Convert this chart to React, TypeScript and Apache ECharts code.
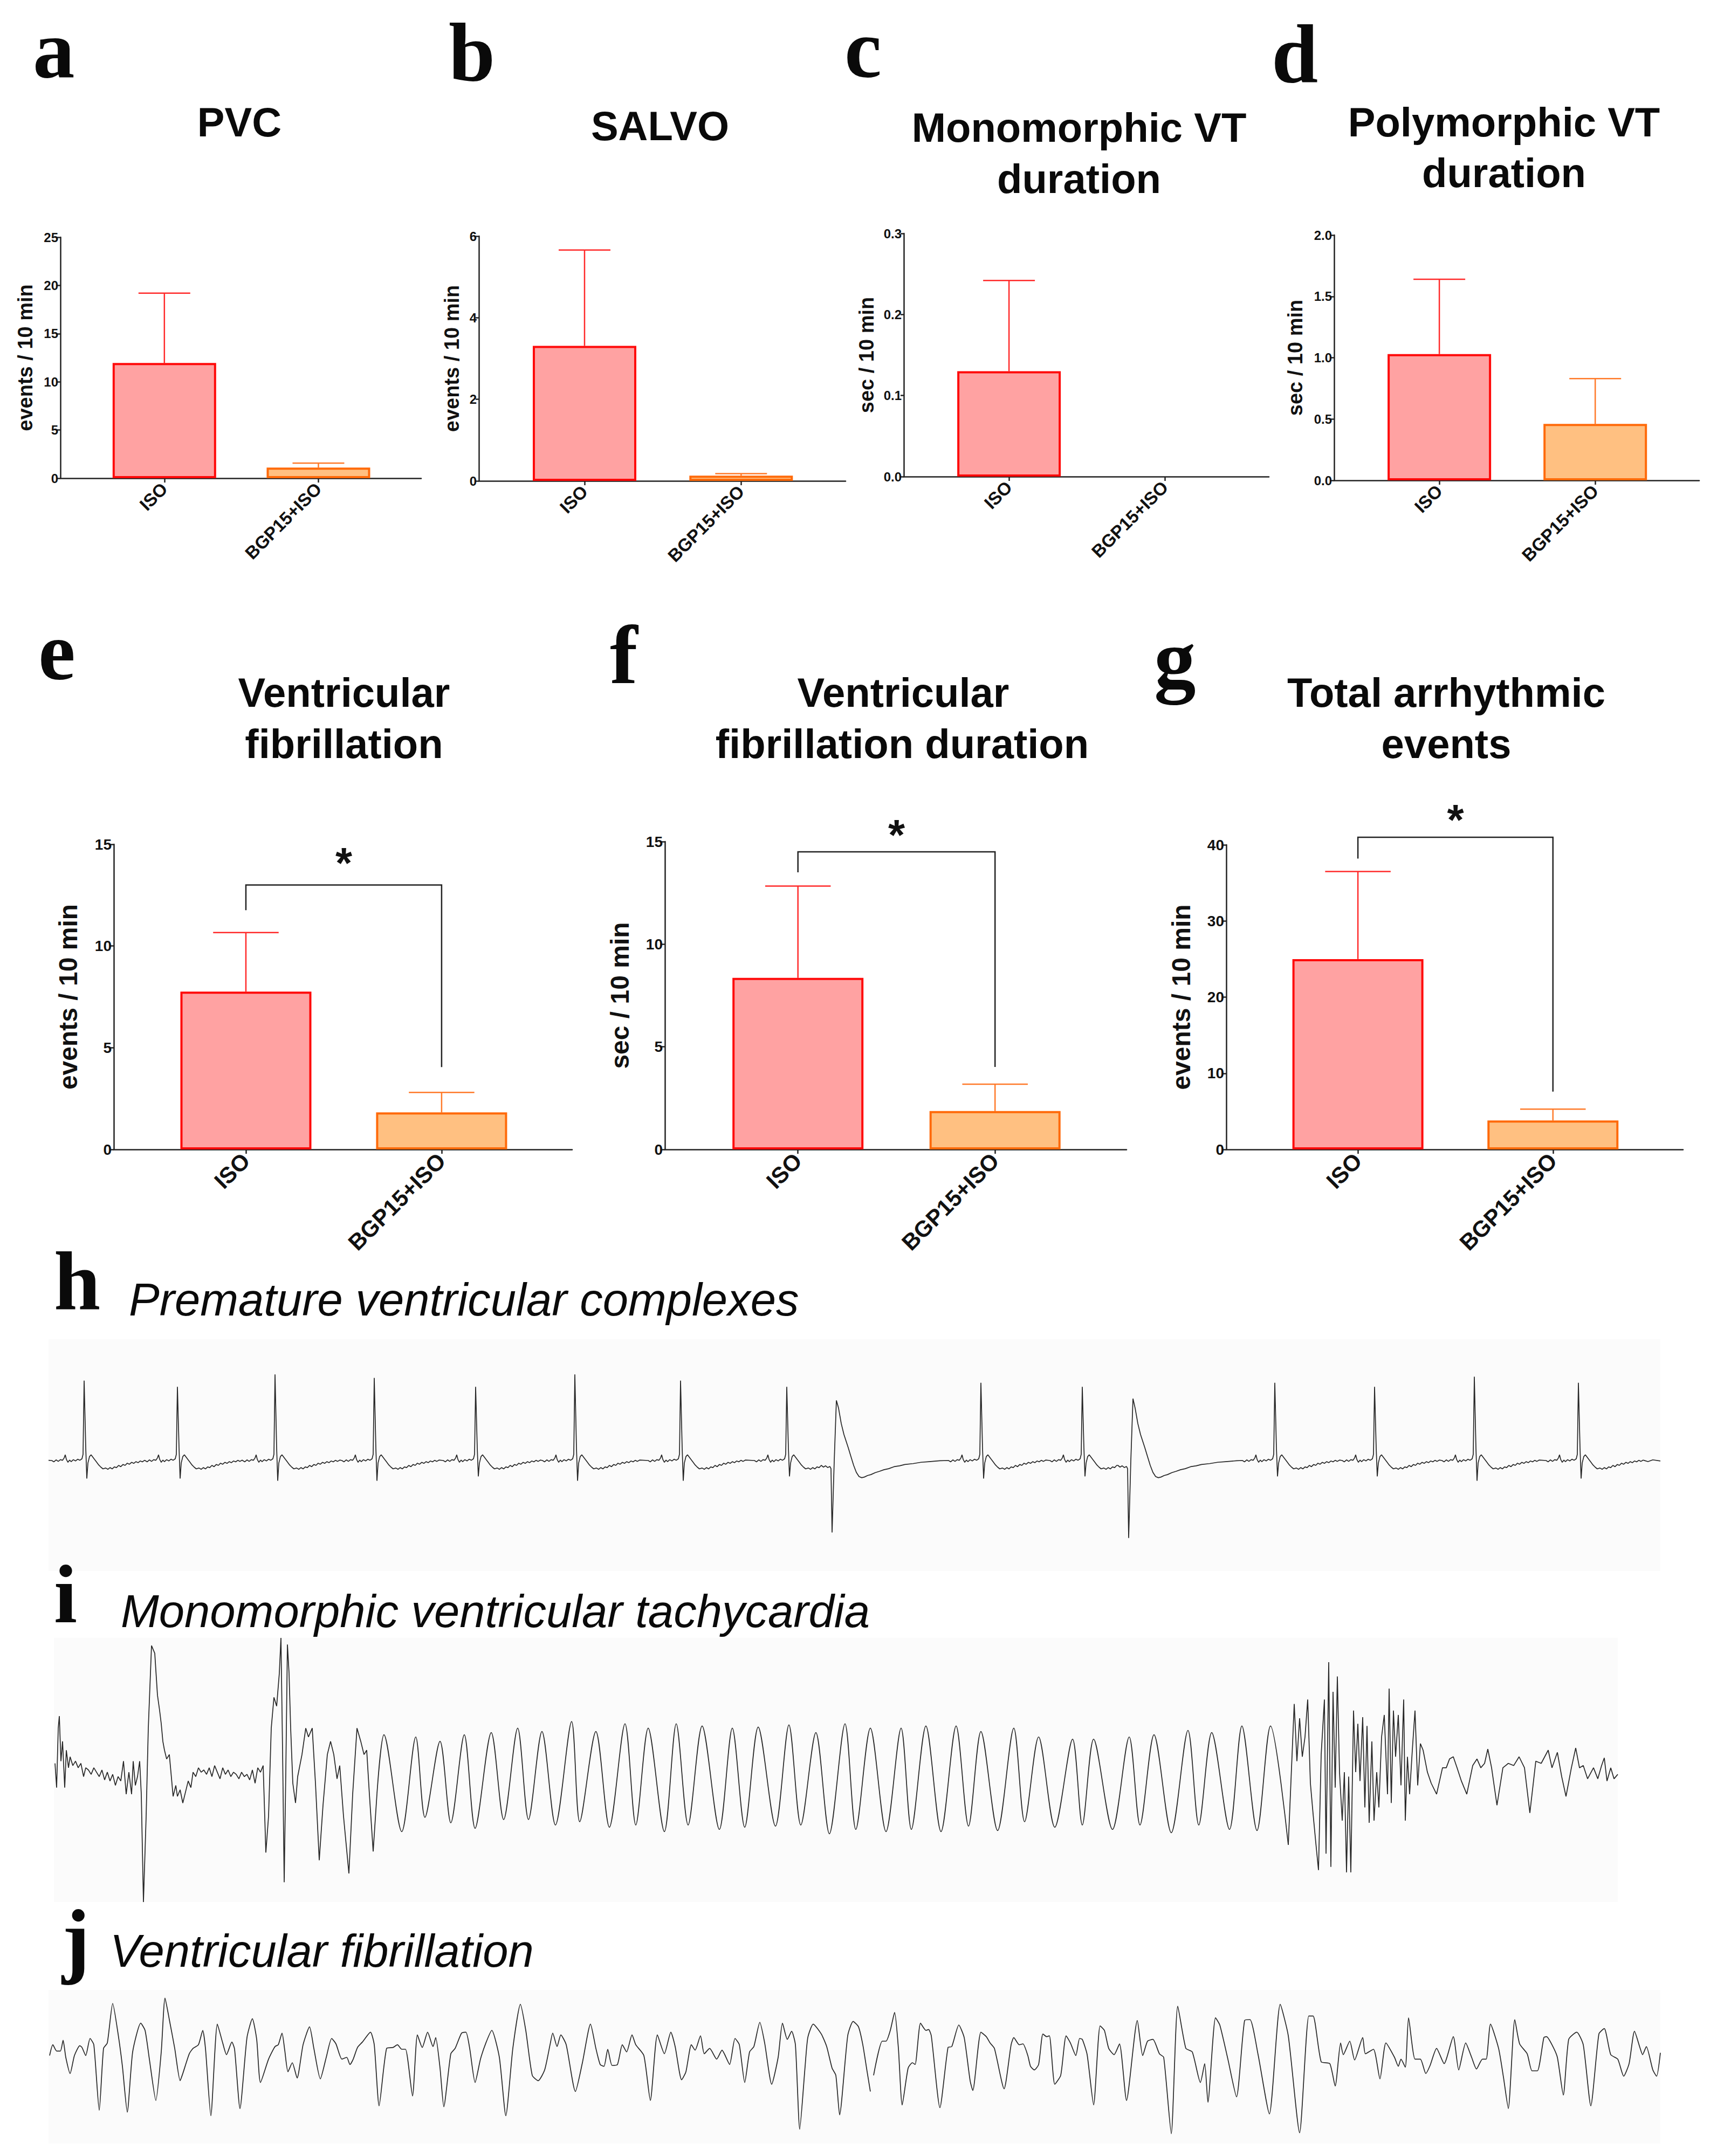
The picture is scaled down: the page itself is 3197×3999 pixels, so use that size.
import React, { useEffect, useRef } from 'react';
import * as echarts from 'echarts';

// ---------------- DATA ----------------
const categories = ['ISO', 'BGP15+ISO'];

// bar means and SEM (upper error) per panel, [ISO, BGP15+ISO]
const pvcMean = [11.95, 1.1];
const pvcSem = [7.25, 0.47];
const salvoMean = [3.31, 0.13];
const salvoSem = [2.35, 0.05];
const monoVtMean = [0.13, 0];
const monoVtSem = [0.112, 0];
const polyVtMean = [1.03, 0.46];
const polyVtSem = [0.61, 0.37];
const vfMean = [7.76, 1.82];
const vfSem = [2.9, 0.98];
const vfDurMean = [8.36, 1.87];
const vfDurSem = [4.47, 1.31];
const totalMean = [25.0, 3.8];
const totalSem = [11.5, 1.5];

// significance brackets for e, f, g: top level, left-leg end, right-leg end, star level
const bracketTop = [13.0, 14.5, 41.0];
const bracketLeftEnd = [11.76, 13.5, 38.2];
const bracketRightEnd = [4.05, 4.02, 7.6];
const starLevel = [14.55, 15.79, 44.6];

// ---- ECG h: premature ventricular complexes (time ms, amplitude a.u.) ----
const beatT = [66, 239, 420, 604, 792, 976, 1172, 1369, 1729, 1917, 2274, 2459, 2644, 2837];
const beatR = [365, 337, 393, 377, 337, 393, 365, 337, 355, 337, 355, 337, 383, 355];
const beatS = [-80, -80, -90, -90, -70, -90, -90, -70, -80, -70, -70, -70, -90, -80];
const beatShapeT = [-60, -56, -52, -48, -44, -40, -37, -35, -33, -30, -27, -24, -20, -16, -12, -8, -4, -2, 0, 3, 5, 7, 10, 13, 16, 19, 23, 27, 31, 35, 40, 44, 48, 52, 56, 60, 64, 68, 72, 76, 80, 84, 88, 92, 96, 100, 104, 108, 112, 116, 120];
const beatShapeV = [2, -4, 5, -2, 6, 3, 14, 28, 8, -6, 4, -3, 6, 0, 8, 3, 10, 30, 365, 60, -80, -10, 20, 28, 18, 8, -5, -18, -28, -36, -32, -38, -30, -36, -27, -30, -20, -26, -16, -20, -10, -15, -6, -11, -3, -8, 0, -4, 3, -2, 4];
const pvcT = [1453, 2003];
const pvcTrough = [-325, -350];
const pvcPeak = [275, 283];
const pvcShapeT = [-20, -16, -12, -8, -4, -2, 0, 4, 8, 12, 17, 22, 26, 30, 35, 40, 45, 50, 55, 60, 66, 72, 80, 88, 96, 105, 115, 125, 135, 150, 165, 180, 200];
const pvcShapeV = [-20, -28, -22, -30, -25, -35, -325, 0, 275, 240, 170, 120, 90, 60, 20, -20, -52, -71, -76, -73, -66, -62, -53, -47, -40, -35, -26, -22, -16, -12, -6, -3, 1];
const hLead = [[0, 3]];
const hTail = [[2966, -3], [2975, 5], [2989, 0]];

// ---- ECG i: monomorphic ventricular tachycardia ----
const iPre = [[2, 40], [5, -70], [8, 200], [10, 255], [13, 50], [16, 140], [20, -70], [23, 100], [27, 20], [30, 70], [35, 30], [40, 50], [45, 20], [50, 40], [55, -20], [59, 20], [64, 10], [69, -10], [74, 20], [79, 0], [84, -20], [89, 10], [94, -35], [99, 0], [104, -40], [109, -10], [114, -60], [119, -20], [124, -40], [129, 50], [134, -100], [139, 0], [144, -100], [147, 50], [151, -60], [155, -20], [159, 50], [162, -100], [166, -590], [171, -200], [175, 200], [181, 575], [187, 540], [192, 350], [196, 280], [199, 220], [202, 140], [205, 100], [209, 60], [214, 80], [217, 0], [221, -110], [226, -60], [229, -110], [234, -80], [239, -140], [244, -90], [249, -40], [254, -70], [258, 0], [263, -20], [268, 20], [273, 0], [278, 10], [283, -10], [288, 20], [293, -20], [298, 30], [303, 0], [308, -30], [313, 20], [318, -10], [323, 10], [328, -20], [333, 0], [338, -10], [343, -30], [348, 0], [353, -20], [358, -10], [363, -35], [368, 10], [373, -50], [378, 20], [383, 0], [388, 30]];
const iBurst = [[388, 30], [393, -365], [398, -200], [403, 200], [408, 340], [413, 300], [418, 450], [421, 610], [424, 100], [427, -500], [430, 0], [433, 580], [436, 450], [439, 200], [443, -50], [448, -140], [452, -20], [456, 30], [460, 80], [467, 200], [472, 160], [479, 200], [485, -50], [492, -400], [499, -150], [507, 80], [513, 140], [519, 80], [525, -30], [530, 30], [537, -200], [547, -460], [554, -100], [562, 200], [569, 140], [575, 80], [580, 100], [585, -100], [592, -360], [599, -100]];
const iVT = [[599, -100], [612, 170], [645, -270], [671, 160], [688, -205], [716, 140], [736, -230], [761, 170], [781, -255], [811, 180], [834, -215], [860, 200], [880, -215], [905, 185], [930, -240], [960, 230], [975, -225], [1005, 185], [1030, -250], [1059, 220], [1079, -240], [1102, 200], [1132, -270], [1154, 220], [1176, -240], [1202, 210], [1234, -260], [1258, 200], [1281, -250], [1306, 205], [1338, -245], [1363, 215], [1385, -240], [1413, 180], [1438, -280], [1467, 220], [1487, -260], [1514, 200], [1543, -270], [1571, 200], [1590, -260], [1617, 210], [1645, -270], [1673, 210], [1696, -245], [1719, 185], [1750, -265], [1780, 200], [1800, -225], [1826, 160], [1856, -250], [1889, 150], [1907, -240], [1928, 150], [1963, -260], [1994, 160], [2014, -240], [2040, 170], [2072, -275], [2103, 190], [2123, -240], [2147, 180], [2180, -260], [2203, 210], [2231, -265], [2256, 210], [2289, -330]];
const iChaos = [[2289, -330], [2300, 310], [2305, 50], [2310, 245], [2315, 70], [2320, 160], [2325, 330], [2330, -50], [2335, -190], [2340, -320], [2345, -445], [2350, 80], [2356, 330], [2359, -370], [2364, 500], [2368, -430], [2372, 365], [2376, -70], [2380, 435], [2384, 0], [2389, -220], [2393, 0], [2397, -455], [2401, -20], [2405, -455], [2410, 280], [2414, 0], [2418, 220], [2422, -40], [2427, 250], [2431, -160], [2435, 210], [2439, -230], [2444, 140], [2448, -220], [2453, 0], [2457, -160], [2462, 160], [2467, 260], [2473, -100], [2476, 380], [2480, -140], [2484, 280], [2488, 70], [2493, 260], [2498, -60], [2503, 330], [2506, -220], [2510, 70], [2514, -100], [2519, 100], [2524, 280], [2529, -60], [2534, 130], [2539, 100], [2547, 0], [2554, -50], [2564, -100], [2575, 20], [2582, 20], [2588, 60], [2595, 70], [2602, 20], [2610, -40], [2620, -100], [2631, 30], [2639, 60], [2646, 20], [2653, 40], [2659, 105], [2666, 20], [2676, -150], [2687, 20], [2697, 40], [2707, 30], [2717, 70], [2727, 20], [2737, -185], [2748, 50], [2758, 40], [2771, 100], [2778, 20], [2788, 90], [2796, -20], [2804, -110], [2814, 20], [2822, 110], [2829, 20], [2836, 30], [2844, -30], [2855, 20], [2863, -30], [2870, 30], [2875, 65], [2880, -40], [2887, 20], [2893, -30], [2900, -10]];

// ---- ECG j: ventricular fibrillation ----
const jA = [[2, -20], [8, 40], [15, 5], [22, 5], [27, 65], [32, -30], [40, -120], [48, -20], [58, 35], [62, 25], [69, -20], [77, 75], [84, 40], [94, -325], [102, 20], [109, 50], [119, 270], [129, 100], [137, -80], [146, -335], [156, 0], [171, 160], [179, 120], [187, -40], [199, -270], [209, 0], [216, 300], [224, 180], [234, 20], [244, -160], [249, -120], [261, -10], [268, 20], [278, 40], [286, 120], [291, 20], [301, -355], [313, 155], [323, 50], [330, -15], [340, 55], [345, 15], [355, -315], [368, 80], [378, 185], [386, 70], [393, -170], [408, -40], [420, 30], [426, 40], [433, 105], [438, 10], [444, -110], [452, -60], [461, -145], [472, 40], [484, 140], [492, 20], [504, -150], [515, -30], [525, 75], [533, 45], [544, -40], [553, -30], [559, -70], [565, -40], [573, 25], [582, 55], [597, 110], [604, 40], [613, -300], [627, 20], [639, 25], [647, 40], [655, 15], [662, 15], [675, -245], [684, 95], [693, 25], [703, 110], [713, 30], [718, 80], [726, -90], [733, -305], [746, -10], [754, 20], [766, 105], [774, 110], [781, 20], [791, -170], [801, -40], [811, 50], [822, 120], [836, -30], [848, -355], [861, 20], [875, 265], [885, 120], [897, -130], [908, -160], [920, -100], [930, 40], [935, 105], [943, 30], [950, 95], [960, 40], [977, -220], [990, -60], [1005, 155], [1015, 20], [1023, -70], [1030, -80], [1037, 15], [1045, -75], [1055, -70], [1064, 40], [1072, 0], [1082, 95], [1089, 40], [1104, -20], [1116, -270], [1129, 95], [1142, -10], [1154, 110], [1162, 30], [1174, -155], [1182, -110], [1192, 40], [1199, 10], [1209, 90], [1216, -10], [1226, 20], [1239, -40], [1249, 10], [1254, -15], [1263, -70], [1273, 75], [1281, 40], [1291, -170], [1300, 0], [1308, 30], [1319, 165], [1328, 50], [1341, -180], [1353, -30], [1361, 160], [1370, 70], [1378, 115], [1385, 40], [1393, -430], [1403, -80], [1408, 80], [1418, 155], [1433, 100], [1443, 30], [1453, -90], [1460, -130], [1467, -350], [1482, 90], [1492, 170], [1502, 140], [1510, 40], [1518, -110], [1524, -220]];
const jB = [[1530, -130], [1546, 60], [1553, 60], [1561, 120], [1569, 220], [1576, 20], [1583, -295], [1594, -90], [1602, -60], [1607, -70], [1617, 160], [1627, 120], [1632, 125], [1637, 90], [1653, -310], [1668, 25], [1675, 30], [1688, 150], [1698, 80], [1709, -160], [1714, -215], [1729, 110], [1739, 85], [1746, 50], [1754, 20], [1772, -205], [1785, 40], [1790, 80], [1800, 40], [1807, 45], [1816, -20], [1821, -80], [1828, -100], [1836, -70], [1844, 100], [1851, 85], [1856, 90], [1866, -180], [1877, -130], [1887, 90], [1895, 50], [1905, -20], [1912, 75], [1917, 70], [1926, -15], [1938, -295], [1950, 145], [1958, 120], [1966, 20], [1976, -15], [1986, 45], [1999, -270], [2019, 175], [2029, -20], [2038, 60], [2048, 70], [2060, -10], [2068, -30], [2082, -455], [2094, 255], [2109, 20], [2121, 0], [2136, -170], [2144, -65], [2150, -280], [2164, 190], [2172, 150], [2187, -40], [2203, -250], [2218, 175], [2228, 180], [2243, -15], [2264, -345], [2284, 265], [2299, 90], [2320, -450], [2337, 200], [2345, 200], [2360, -55], [2376, -65], [2386, -190], [2396, 50], [2401, -15], [2413, 60], [2422, -45], [2437, 80], [2442, -10], [2457, 15], [2469, -150], [2480, 50], [2496, -30], [2503, -80], [2508, -40], [2516, -85], [2522, 190], [2534, -40], [2544, -40], [2554, -120], [2562, -75], [2574, 20], [2588, -65], [2605, 85], [2615, -100], [2628, 50], [2639, -30], [2648, -95], [2659, -40], [2666, -40], [2674, 155], [2689, 20], [2698, -140], [2707, -315], [2719, 180], [2728, 45], [2742, -10], [2751, -105], [2761, -105], [2773, 80], [2778, 85], [2788, 40], [2798, -30], [2809, -240], [2819, 70], [2834, 110], [2846, 40], [2860, -300], [2875, 100], [2885, 130], [2897, -15], [2910, -40], [2921, -135], [2931, -65], [2941, 115], [2951, 25], [2956, -15], [2963, 30], [2975, -100], [2982, -135], [2989, -5]];

// ---------------- STYLE ----------------
const SANS = "'Liberation Sans', Arial, Helvetica, sans-serif";
const SERIF = "'Liberation Serif', 'Times New Roman', serif";
const AXIS = '#222';
const ISO_FILL = '#ffa2a2';
const ISO_EDGE = '#ff0a0a';
const BGP_FILL = '#ffc081';
const BGP_EDGE = '#ff6a0a';
const ERR_COL = ['#ff2a2a', '#ff7a2a'];

function buildH() {
  const events: any[] = [];
  beatT.forEach((t, i) => events.push({ t, kind: 'n', a: beatR[i], b: beatS[i] }));
  pvcT.forEach((t, i) => events.push({ t, kind: 'p', a: pvcTrough[i], b: pvcPeak[i] }));
  events.sort((p, q) => p.t - q.t);
  const pts: number[][] = hLead.map((p) => p.slice());
  events.forEach((ev, i) => {
    const T = ev.kind === 'n' ? beatShapeT : pvcShapeT;
    const V = ev.kind === 'n' ? beatShapeV : pvcShapeV;
    const next = events[i + 1];
    const limit = next ? next.t + (next.kind === 'n' ? beatShapeT[0] : pvcShapeT[0]) : Infinity;
    const ia = T.indexOf(0);
    const ib = ev.kind === 'n' ? T.indexOf(5) : T.indexOf(8);
    T.forEach((dt, k) => {
      const t = ev.t + dt;
      if (t >= limit || t < 0) return;
      let v = V[k];
      if (k === ia) v = ev.a;
      if (k === ib) v = ev.b;
      pts.push([t, v]);
    });
  });
  hTail.forEach((p) => pts.push(p.slice()));
  return pts;
}

type Panel = {
  left: number; top: number; right: number; bottom: number;
  yMax: number; yInt: number; dec: number; mean: number[]; sem: number[];
  name: string; nameGap: number; big: boolean; bracket?: number;
};

const panels: Panel[] = [
  { left: 112, top: 440, right: 781, bottom: 887, yMax: 25, yInt: 5, dec: 0, mean: pvcMean, sem: pvcSem, name: 'events / 10 min', nameGap: 46, big: false },
  { left: 888, top: 438, right: 1568, bottom: 892, yMax: 6, yInt: 2, dec: 0, mean: salvoMean, sem: salvoSem, name: 'events / 10 min', nameGap: 31, big: false },
  { left: 1676, top: 433, right: 2353, bottom: 884, yMax: 0.3, yInt: 0.1, dec: 1, mean: monoVtMean, sem: monoVtSem, name: 'sec / 10 min', nameGap: 50, big: false },
  { left: 2474, top: 436, right: 3151, bottom: 891, yMax: 2, yInt: 0.5, dec: 1, mean: polyVtMean, sem: polyVtSem, name: 'sec / 10 min', nameGap: 53, big: false },
  { left: 211, top: 1566, right: 1061, bottom: 2132, yMax: 15, yInt: 5, dec: 0, mean: vfMean, sem: vfSem, name: 'events / 10 min', nameGap: 61, big: true, bracket: 0 },
  { left: 1233, top: 1561, right: 2089, bottom: 2132, yMax: 15, yInt: 5, dec: 0, mean: vfDurMean, sem: vfDurSem, name: 'sec / 10 min', nameGap: 60, big: true, bracket: 1 },
  { left: 2274, top: 1567, right: 3121, bottom: 2132, yMax: 40, yInt: 10, dec: 0, mean: totalMean, sem: totalSem, name: 'events / 10 min', nameGap: 60, big: true, bracket: 2 },
];

function buildOption() {
  const grid: any[] = [];
  const xAxis: any[] = [];
  const yAxis: any[] = [];
  const series: any[] = [];

  panels.forEach((p, gi) => {
    const tickFs = p.big ? 28 : 24;
    const catFs = p.big ? 42 : 33;
    const nameFs = p.big ? 48 : 38;
    const barW = p.big ? 243 : 192;
    const cap = barW / 4;
    grid.push({ left: p.left, top: p.top, width: p.right - p.left, height: p.bottom - p.top });
    xAxis.push({
      type: 'value', gridIndex: gi, min: 0.325, max: 2.667,
      axisLine: { show: true, onZero: false, lineStyle: { color: AXIS, width: 2.5 } },
      axisTick: { show: true, customValues: [1, 2], length: 8, lineStyle: { color: AXIS, width: 2.5 } },
      axisLabel: {
        show: true, customValues: [1, 2], rotate: 45, margin: 14,
        formatter: (v: number) => categories[Math.round(v) - 1] || '',
        fontSize: catFs, fontWeight: 'bold', color: '#111', fontFamily: SANS,
      },
      splitLine: { show: false },
    });
    yAxis.push({
      type: 'value', gridIndex: gi, min: 0, max: p.yMax, interval: p.yInt,
      axisLine: { show: true, lineStyle: { color: AXIS, width: 2.5 } },
      axisTick: { show: true, length: 6, lineStyle: { color: AXIS, width: 2.5 } },
      axisLabel: {
        margin: 4, fontSize: tickFs, fontWeight: 'bold', color: '#111', fontFamily: SANS,
        formatter: (v: number) => (p.dec ? v.toFixed(p.dec) : String(Math.round(v))),
      },
      splitLine: { show: false },
      name: p.name, nameLocation: 'middle', nameGap: p.nameGap, nameRotate: 90,
      nameTextStyle: { fontSize: nameFs, fontWeight: 'bold', color: '#111', fontFamily: SANS },
    });
    series.push({
      type: 'bar', xAxisIndex: gi, yAxisIndex: gi, barWidth: barW, z: 3, silent: true,
      data: p.mean.map((m, i) => ({
        value: [i + 1, m],
        itemStyle: {
          color: i === 0 ? ISO_FILL : BGP_FILL,
          borderColor: i === 0 ? ISO_EDGE : BGP_EDGE,
          borderWidth: m > 0 ? 4 : 0,
        },
      })),
    });
    series.push({
      type: 'custom', xAxisIndex: gi, yAxisIndex: gi, z: 2, silent: true,
      encode: { x: 0, y: [1, 2] },
      data: p.mean.map((m, i) => [i + 1, m, m + p.sem[i]]),
      renderItem: (params: any, api: any) => {
        const x = api.value(0); const m = api.value(1); const u = api.value(2);
        if (!(u > m)) return { type: 'group', children: [] };
        const p0 = api.coord([x, m]); const p1 = api.coord([x, u]);
        const st = { stroke: ERR_COL[params.dataIndex], lineWidth: 2.5 };
        return {
          type: 'group',
          children: [
            { type: 'line', shape: { x1: p0[0], y1: p0[1], x2: p1[0], y2: p1[1] }, style: st },
            { type: 'line', shape: { x1: p1[0] - cap, y1: p1[1], x2: p1[0] + cap, y2: p1[1] }, style: st },
          ],
        };
      },
    });
    if (p.bracket !== undefined) {
      const b = p.bracket;
      series.push({
        type: 'custom', xAxisIndex: gi, yAxisIndex: gi, z: 4, silent: true, clip: false,
        data: [[1, 2, bracketTop[b], bracketLeftEnd[b], bracketRightEnd[b], starLevel[b]]],
        encode: { x: [0, 1], y: [2] },
        renderItem: (params: any, api: any) => {
          const a = api.coord([api.value(0), api.value(3)]);
          const t1 = api.coord([api.value(0), api.value(2)]);
          const t2 = api.coord([api.value(1), api.value(2)]);
          const c = api.coord([api.value(1), api.value(4)]);
          const s = api.coord([(api.value(0) + api.value(1)) / 2, api.value(5)]);
          return {
            type: 'group',
            children: [
              { type: 'polyline', shape: { points: [a, t1, t2, c] }, style: { stroke: '#222', lineWidth: 2.5, fill: 'none' } },
              { type: 'text', x: s[0], y: s[1] + 18, style: { text: '*', font: `bold 80px ${SANS}`, fill: '#111', align: 'center', verticalAlign: 'middle', textAlign: 'center', textVerticalAlign: 'middle', lineHeight: 60 } },
            ],
          };
        },
      });
    }
  });

  // ECG panels
  const ecg = [
    { left: 90, top: 2484, width: 2989, height: 430, yMin: -500, yMax: 553, parts: [{ d: buildH(), smooth: false }] },
    { left: 100, top: 3038, width: 2900, height: 490, yMin: -590, yMax: 610, parts: [{ d: iPre, smooth: false }, { d: iBurst, smooth: false }, { d: iVT, smooth: 0.3 }, { d: iChaos, smooth: false }] },
    { left: 90, top: 3691, width: 2989, height: 285, yMin: -510, yMax: 345, parts: [{ d: jA, smooth: 0.2 }, { d: jB, smooth: 0.2 }] },
  ];
  ecg.forEach((e) => {
    const gi = grid.length;
    grid.push({ left: e.left, top: e.top, width: e.width, height: e.height, show: true, backgroundColor: '#fbfbfb', borderWidth: 0 });
    xAxis.push({ type: 'value', gridIndex: gi, min: 0, max: e.width, show: false });
    yAxis.push({ type: 'value', gridIndex: gi, min: e.yMin, max: e.yMax, show: false });
    e.parts.forEach((part) => {
      series.push({
        type: 'line', xAxisIndex: gi, yAxisIndex: gi, data: part.d, smooth: part.smooth,
        showSymbol: false, symbol: 'none', silent: true, clip: true,
        lineStyle: { color: '#262626', width: 1.7 },
      });
    });
  });

  const txt = (text: string, x: number, y: number, font: string, align = 'center', lh?: number) => ({
    type: 'text', x, y, silent: true,
    style: { text, font, fill: '#0a0a0a', align, verticalAlign: 'middle', textAlign: align, textVerticalAlign: 'middle', lineHeight: lh },
  });
  const titleFont = `bold 76px ${SANS}`;
  const letterFont = `bold 155px ${SERIF}`;
  const ecgFont = `italic 85px ${SANS}`;
  const L = 120;
  const graphic = [
    txt('a', 61, 91, letterFont, 'left', L),
    txt('b', 832, 98, letterFont, 'left', L),
    txt('c', 1566, 91, letterFont, 'left', L),
    txt('d', 2358, 101, letterFont, 'left', L),
    txt('e', 71, 1208, letterFont, 'left', L),
    txt('f', 1131, 1215, letterFont, 'left', L),
    txt('g', 2140, 1222, letterFont, 'left', L),
    txt('h', 100, 2377, letterFont, 'left', L),
    txt('i', 100, 2958, letterFont, 'left', L),
    txt('j', 115, 3597, letterFont, 'left', L),
    txt('PVC', 444, 226, titleFont),
    txt('SALVO', 1224, 233, titleFont),
    txt('Monomorphic VT', 2001, 236, titleFont),
    txt('duration', 2001, 331, titleFont),
    txt('Polymorphic VT', 2789, 226, titleFont),
    txt('duration', 2789, 320, titleFont),
    txt('Ventricular', 638, 1284, titleFont),
    txt('fibrillation', 638, 1379, titleFont),
    txt('Ventricular', 1675, 1284, titleFont),
    txt('fibrillation duration', 1673, 1379, titleFont),
    txt('Total arrhythmic', 2682, 1284, titleFont),
    txt('events', 2682, 1379, titleFont),
    txt('Premature ventricular complexes', 239, 2410, ecgFont, 'left'),
    txt('Monomorphic ventricular tachycardia', 224, 2988, ecgFont, 'left'),
    txt('Ventricular fibrillation', 204, 3618, ecgFont, 'left'),
  ];

  return { animation: false, backgroundColor: '#ffffff', grid, xAxis, yAxis, series, graphic };
}

export default function App() {
  const ref = useRef<HTMLDivElement | null>(null);
  useEffect(() => {
    if (!ref.current) return;
    const chart = echarts.init(ref.current, null, { renderer: 'svg' });
    chart.setOption(buildOption() as any);
    return () => chart.dispose();
  }, []);
  return <div ref={ref} style={{ position: 'absolute', left: 0, top: 0, width: 3197, height: 3999 }} />;
}
